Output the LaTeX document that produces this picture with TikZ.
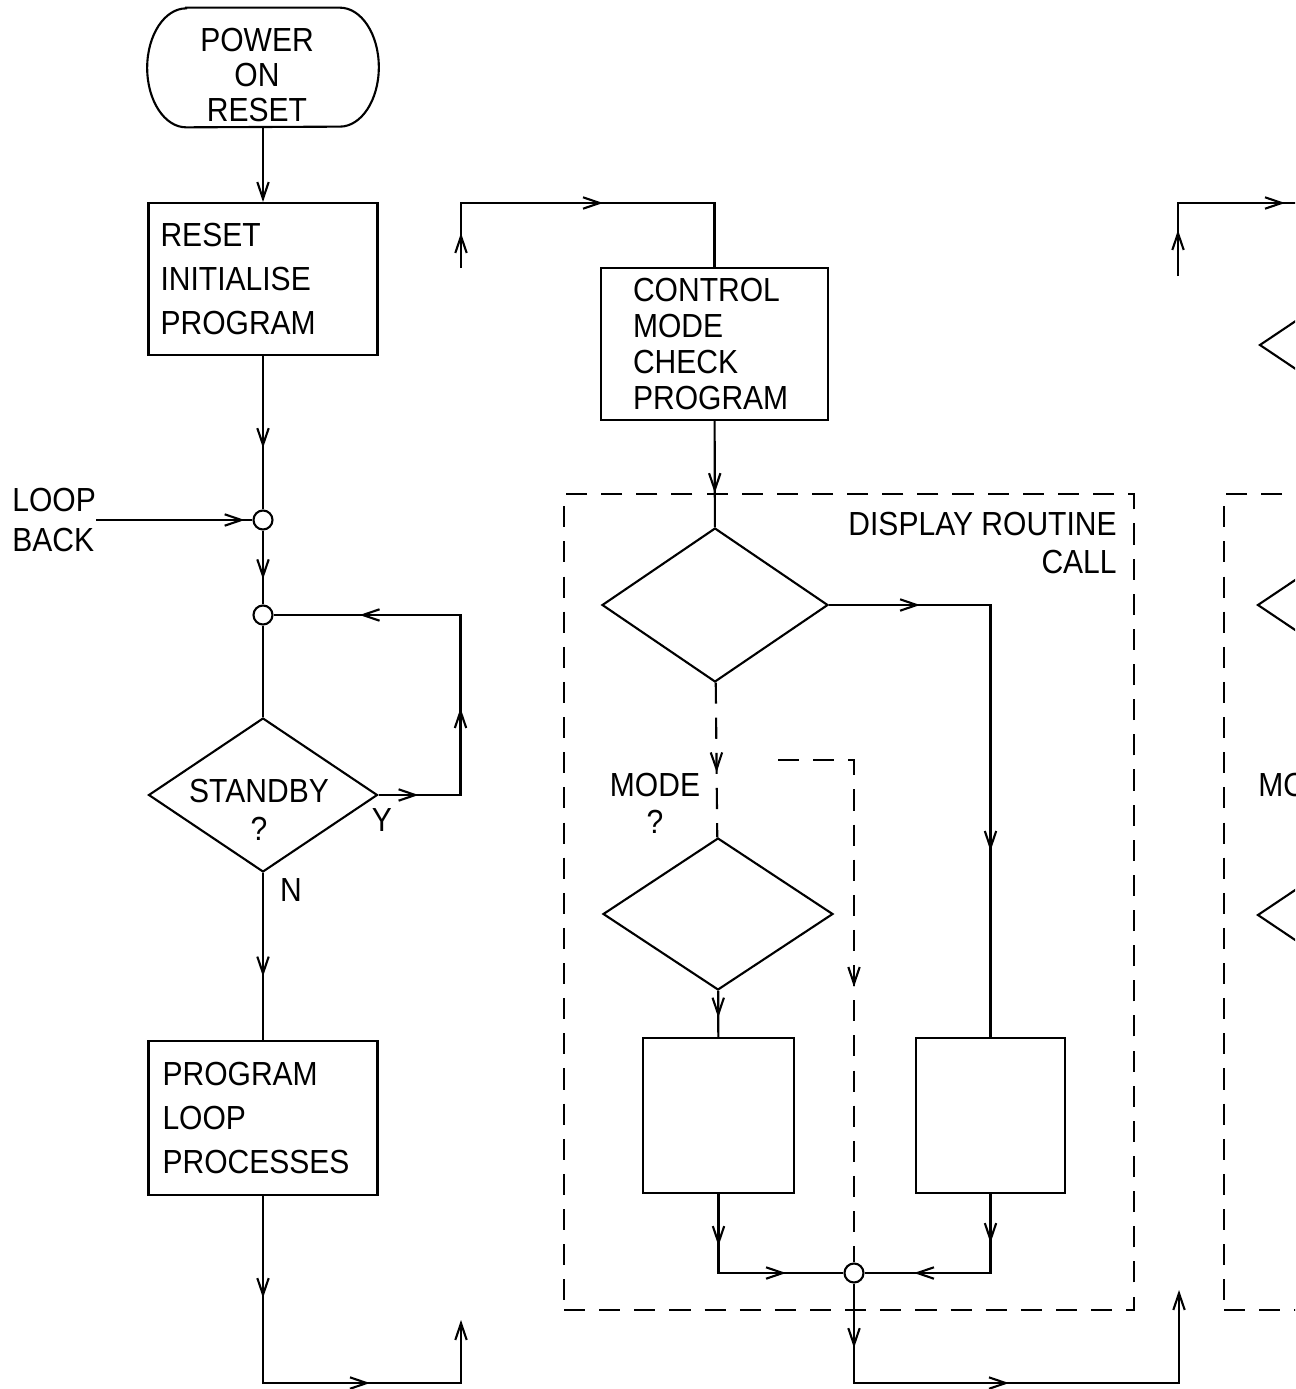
\documentclass[tikz,border=0pt]{standalone}
\usepackage{fontspec}
\setmainfont{Liberation Sans}[FakeStretch=0.9]
\usetikzlibrary{shapes.geometric,arrows.meta,decorations.markings,positioning}

\begin{document}
\begin{tikzpicture}[
  x=0.02cm, y=-0.02cm,
  font=\fontsize{19}{22}\selectfont,
  ln/.style={line width=1.2pt},
  dsh/.style={ln,dash pattern=on 12pt off 8pt},
  >={Straight Barb[length=9.5pt,width=6.5pt]},
  arr/.style={postaction={decorate,solid,decoration={markings,mark=at position #1 with {\arrow{>}}}}},
  bx/.style={draw,ln,align=left,inner ysep=0pt,minimum height=3.04cm},
  dc/.style={draw,ln,diamond,inner sep=0pt,minimum width=4.58cm,minimum height=3.08cm},
  jn/.style={draw,ln,circle,inner sep=0pt,minimum size=0.38cm},
  lbl/.style={inner sep=0pt,align=center}]

\useasboundingbox (0,0) rectangle (1295,1389);
\clip (0,0) rectangle (1295,1389);

% left column
\node[minimum width=4.62cm,minimum height=2.38cm,inner sep=0pt,
  label={[lbl,font=\fontsize{19}{19.8}\selectfont,xshift=-0.12cm,yshift=-0.15cm]center:POWER\\ON\\RESET}] (pwr) at (263,67.5) {};
\draw[ln] ([xshift=0.78cm]pwr.north west) -- ([xshift=-0.78cm]pwr.north east)
  arc[start angle=90,end angle=-90,x radius=0.78cm,y radius=1.19cm]
  -- ([xshift=0.78cm]pwr.south west)
  arc[start angle=270,end angle=90,x radius=0.78cm,y radius=1.19cm] -- cycle;
\node[bx,inner xsep=0.24cm,text width=4.1cm,font=\fontsize{19}{25}\selectfont] (rst) at (263,279) {RESET\\INITIALISE\\PROGRAM};
\node[jn] (j1) at (263,520) {};
\node[jn] (j2) at (263,615) {};
\node[lbl,align=left,anchor=north west,font=\fontsize{19}{22.7}\selectfont] (lb) at (12,488) {LOOP\\BACK};
\node[dc,label={[lbl,xshift=-0.08cm,yshift=-0.3cm]center:STANDBY\\?}] (sb) at (263,795) {};
\node[lbl] (ylab) at (382,820) {Y};
\node[lbl] (nlab) at (291,890) {N};
\node[bx,inner xsep=0.28cm,text width=4.02cm,minimum height=3.08cm,font=\fontsize{19}{25}\selectfont] (plp) at (263,1118) {PROGRAM\\LOOP\\PROCESSES};

% display routine column
\node[bx,inner xsep=0.64cm,text width=3.26cm,font=\fontsize{19}{20.4}\selectfont] (cmc) at (714.5,344) {CONTROL\\MODE\\CHECK\\PROGRAM};
\node[draw,dsh,minimum width=11.4cm,minimum height=16.32cm] (disp) at (849,902) {};
\node[lbl,align=right,anchor=north east,font=\fontsize{19}{21.5}\selectfont] (drc) at (1117,512) {DISPLAY ROUTINE\\CALL};
\node[dc,minimum width=4.52cm] (d1) at (715,605) {};
\node[lbl,font=\fontsize{19}{21}\selectfont] (mq) at (655,803) {MODE\\?};
\node[dc,minimum width=4.6cm,minimum height=3.04cm] (d2) at (718,914) {};
\node[bx,minimum width=3.02cm,minimum height=3.1cm] (bA) at (718.5,1115.5) {};
\node[bx,minimum width=2.98cm,minimum height=3.1cm] (bB) at (990.5,1115.5) {};
\node[jn] (j3) at (854,1273) {};

% next column, cut off at the edge
\node[draw,dsh,minimum width=11.4cm,minimum height=16.32cm] (disp2) at (1509,902) {};
\node[dc] (r1) at (1374,345) {};
\node[dc] (r2) at (1372,605) {};
\node[dc] (r3) at (1372,915) {};
\node[lbl,anchor=west,font=\fontsize{19}{21}\selectfont] (mq2) at (1258,803) {MODE\\?};

\coordinate (c1) at (461,1320);
\coordinate (c2) at (461,268);
\coordinate (c3) at (778,760);
\coordinate (c4) at (1179,1290);
\coordinate (c5) at (1178,276);
\coordinate (c6) at (1330,203);

\foreach \a/\b/\p in {rst/j1/0.6,j1/j2/0.66,sb/plp/0.62,cmc/d1/0.68,d2/bA/0.58}
  \draw[ln,arr=\p] (\a) -- (\b);
\draw[ln,->] (pwr) -- (rst);
\draw[ln,arr=0.95] (lb.east |- j1) -- (j1);
\draw[ln] (j2) -- (sb);
\draw[ln,arr=0.8cm,arr=3.38cm,arr=7.26cm] (sb.east) -- ++(82,0) |- (j2.east);
\draw[ln,->,arr=2.04cm,arr=5.88cm] (plp.south) -- ++(0,187) -| (c1);
\draw[ln,arr=0.7cm,arr=4.14cm] (c2) -- ++(0,-65) -| (cmc.north);
\draw[ln,arr=1.82cm,arr=8.15cm] (d1.east) -| (bB.north);
\draw[dsh,arr=0.58] (d1) -- (d2);
\draw[dsh,arr=6.06cm] (c3) -| (j3.north);
\draw[ln,arr=1.04cm,arr=2.93cm] (bA.south) |- (j3.west);
\draw[ln,arr=0.98cm,arr=3.11cm] (bB.south) |- (j3.east);
\draw[ln,->,arr=1.29cm,arr=5.09cm] (j3.south) -- ++(0,99.5) -| (c4);
\draw[ln,arr=0.92cm,arr=3.6cm] (c5) -- ++(0,-73) -- (c6);
\end{tikzpicture}
\end{document}
